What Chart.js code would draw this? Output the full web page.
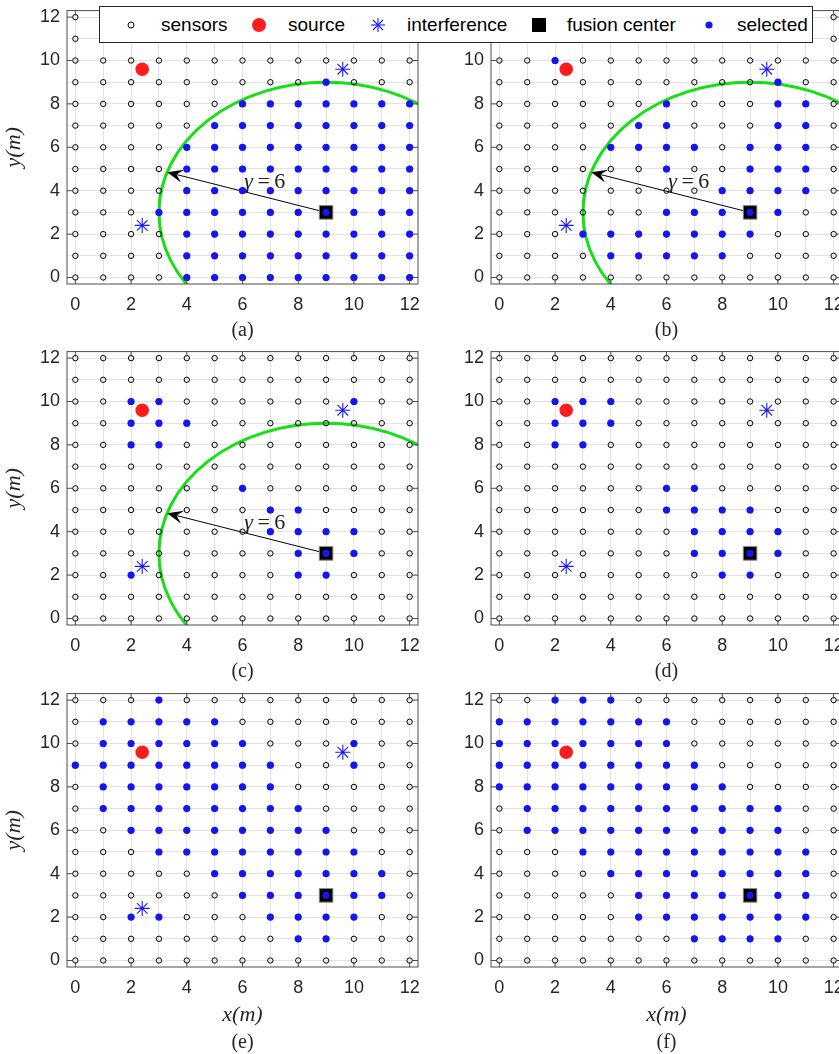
<!DOCTYPE html>
<html lang="en">
<head>
<meta charset="UTF-8" />
<title>Sensor selection around the fusion center</title>
<script src="https://cdn.jsdelivr.net/npm/chart.js"></script>
<style>
  body { margin: 0; width: 839px; height: 1054px; overflow: hidden; background: #fff; position: relative; }
  canvas { position: absolute; }
  .legend { position: absolute; left: 99px; top: 6px; width: 712px; height: 35px; background: #fff;
            border: 1px solid #262626; font-family: "Liberation Sans", Arial, sans-serif; font-size: 19px; color: #000; z-index: 2; }
  .legend span { position: absolute; top: 0; line-height: 36px; }
  .legend svg { position: absolute; left: 0; top: 0; }
</style>
</head>
<body>
<canvas id="pa" width="430" height="340" style="left:0;top:0"></canvas>
<canvas id="pb" width="430" height="340" style="left:424px;top:0"></canvas>
<canvas id="pc" width="430" height="340" style="left:0;top:341px"></canvas>
<canvas id="pd" width="430" height="340" style="left:424px;top:341px"></canvas>
<canvas id="pe" width="430" height="371" style="left:0;top:683px"></canvas>
<canvas id="pf" width="430" height="371" style="left:424px;top:683px"></canvas>

<div class="legend">
  <svg width="712" height="35">
    <circle cx="31" cy="18" r="3" fill="none" stroke="#000" stroke-width="1"/>
    <circle cx="159" cy="18" r="7" fill="#ff1c1c"/>
    <g stroke="#1a1aff" stroke-width="1.1">
      <line x1="271" y1="18" x2="285" y2="18"/><line x1="278" y1="11" x2="278" y2="25"/>
      <line x1="273" y1="13" x2="283" y2="23"/><line x1="273" y1="23" x2="283" y2="13"/>
    </g>
    <rect x="432" y="11" width="14" height="14" fill="#000"/>
    <circle cx="609" cy="18" r="3.6" fill="#1515f0"/>
  </svg>
  <span style="left:61px">sensors</span>
  <span style="left:188px">source</span>
  <span style="left:307px">interference</span>
  <span style="left:467px">fusion center</span>
  <span style="left:637px">selected</span>
</div>

<script>
  const gridCoords = [0, 1, 2, 3, 4, 5, 6, 7, 8, 9, 10, 11, 12];
  const sourcePoints = [{ x: 2.4, y: 9.6 }];
  const interferencePoints = [{ x: 9.6, y: 9.6 }, { x: 2.4, y: 2.4 }];
  const fusionPoints = [{ x: 9, y: 3 }];
  const gamma = 6;          // selection radius around the fusion center
  const arrowAngle = 162;   // direction of the radius arrow, degrees
  const captions = ['(a)', '(b)', '(c)', '(d)', '(e)', '(f)'];

  // selected sensors, rows y = 12 down to 0, columns x = 0..12 ('#' = selected)
  const selectedA = [
    '.............', '.............', '.............', '.........#...',
    '......#######', '.....########', '....#########', '....#########',
    '....#########', '...##########', '....#########', '....#########',
    '....#########'
  ];
  const selectedB = [
    '.............', '.............', '..#..........', '..........#..',
    '......#...##.', '.....##...##.', '....####.###.', '......#..###.',
    '........####.', '......#####..', '...#######...', '....#####....',
    '.............'
  ];
  const selectedC = [
    '.............', '.............', '..##......#..', '..###........',
    '..##.........', '.............', '......#......', '.......##....',
    '.......####..', '........###..', '..#.....##...', '.............',
    '.............'
  ];
  const selectedD = [
    '.............', '.............', '..###........', '..###........',
    '..##.........', '.............', '......##.....', '......####...',
    '.......####..', '.......####..', '........##...', '.............',
    '.............'
  ];
  const selectedE = [
    '...#.........', '.#####.......', '.######...#..', '########..#..',
    '.#######.....', '.########....', '..########...', '...########..',
    '.....#######.', '......######.', '..##...####..', '........##...',
    '.............'
  ];
  const selectedF = [
    '..###........', '#######......', '#######......', '########.....',
    '#########....', '.##########..', '.##########..', '...#########.',
    '....########.', '.....#######.', '.....#######.', '.......####..',
    '.............'
  ];

  const BLUE = '#1515f0';
  const SERIF = '"Liberation Serif", "Times New Roman", serif';
  const INK = '#262626';

  function gridPoints() {
    const pts = [];
    gridCoords.forEach(y => gridCoords.forEach(x => pts.push({ x, y })));
    return pts;
  }

  function maskPoints(rows) {
    const pts = [];
    rows.forEach((row, i) => {
      const y = gridCoords[gridCoords.length - 1 - i];
      [...row].forEach((c, j) => { if (c === '#') pts.push({ x: gridCoords[j], y }); });
    });
    return pts;
  }

  // radius circle + arrow under the markers, frame / labels on top
  const fieldMarks = {
    id: 'fieldMarks',
    beforeDatasetsDraw(chart, args, o) {
      if (!o.arc) return;
      const { ctx, chartArea: a, scales: { x, y } } = chart;
      const c = fusionPoints[0];
      const cx = x.getPixelForValue(c.x), cy = y.getPixelForValue(c.y);
      const rx = x.getPixelForValue(c.x + gamma) - cx;
      const ry = cy - y.getPixelForValue(c.y + gamma);
      ctx.save();
      ctx.beginPath();
      ctx.rect(a.left, a.top, a.right - a.left, a.bottom - a.top);
      ctx.clip();
      ctx.beginPath();
      ctx.ellipse(cx, cy, rx, ry, 0, 0, 2 * Math.PI);
      ctx.strokeStyle = '#14e014';
      ctx.lineWidth = 3;
      ctx.stroke();

      const t = arrowAngle * Math.PI / 180;
      const tx = x.getPixelForValue(c.x + gamma * Math.cos(t));
      const ty = y.getPixelForValue(c.y + gamma * Math.sin(t));
      const ang = Math.atan2(ty - cy, tx - cx);
      const L = 16, W = 13, back = 0.6 * L;
      ctx.strokeStyle = '#000';
      ctx.lineWidth = 1;
      ctx.beginPath();
      ctx.moveTo(cx, cy);
      ctx.lineTo(tx - back * Math.cos(ang), ty - back * Math.sin(ang));
      ctx.stroke();
      ctx.translate(tx, ty);
      ctx.rotate(ang);
      ctx.beginPath();
      ctx.moveTo(0, 0);
      ctx.lineTo(-L, -W / 2);
      ctx.lineTo(-back, 0);
      ctx.lineTo(-L, W / 2);
      ctx.closePath();
      ctx.fillStyle = '#000';
      ctx.fill();
      ctx.restore();
    },
    afterDatasetsDraw(chart, args, o) {
      const { ctx, chartArea: a, scales: { x, y } } = chart;
      ctx.save();
      // box with inward tick marks
      ctx.strokeStyle = '#4d4d4d';
      ctx.lineWidth = 1;
      ctx.strokeRect(a.left, a.top, a.right - a.left, a.bottom - a.top);
      ctx.beginPath();
      x.ticks.forEach(tk => {
        if (tk.value % 2) return;
        const px = x.getPixelForValue(tk.value);
        ctx.moveTo(px, a.bottom); ctx.lineTo(px, a.bottom - 5);
        ctx.moveTo(px, a.top); ctx.lineTo(px, a.top + 5);
      });
      y.ticks.forEach(tk => {
        if (tk.value % 2) return;
        const py = y.getPixelForValue(tk.value);
        ctx.moveTo(a.left, py); ctx.lineTo(a.left + 5, py);
        ctx.moveTo(a.right, py); ctx.lineTo(a.right - 5, py);
      });
      ctx.stroke();

      if (o.arc) {
        // gamma label above the arrow
        const lx = x.getPixelForValue(6.8), ly = y.getPixelForValue(4.4);
        const g = 'γ', rest = '\u2009=\u2009' + gamma;
        ctx.fillStyle = '#222';
        ctx.textBaseline = 'middle';
        ctx.font = 'italic 22px ' + SERIF;
        const wg = ctx.measureText(g).width;
        ctx.font = '22px ' + SERIF;
        const wr = ctx.measureText(rest).width;
        const x0 = lx - (wg + wr) / 2;
        ctx.textAlign = 'left';
        ctx.font = 'italic 22px ' + SERIF;
        ctx.fillText(g, x0, ly);
        ctx.font = '22px ' + SERIF;
        ctx.fillText(rest, x0 + wg, ly);
      }

      // panel caption
      ctx.fillStyle = INK;
      ctx.font = '20px ' + SERIF;
      ctx.textAlign = 'center';
      ctx.textBaseline = 'middle';
      ctx.fillText(o.caption, (a.left + a.right) / 2, a.bottom + o.captionGap);
      ctx.restore();
    }
  };

  Chart.defaults.font.family = '"Liberation Sans", Arial, sans-serif';
  Chart.defaults.color = INK;

  const panels = [
    { id: 'pa', rows: selectedA, arc: true,  interference: true,  yTitle: true },
    { id: 'pb', rows: selectedB, arc: true,  interference: true,  yTitle: false },
    { id: 'pc', rows: selectedC, arc: true,  interference: true,  yTitle: true },
    { id: 'pd', rows: selectedD, arc: false, interference: true,  yTitle: false },
    { id: 'pe', rows: selectedE, arc: false, interference: true,  yTitle: true },
    { id: 'pf', rows: selectedF, arc: false, interference: false, yTitle: false }
  ];

  panels.forEach((p, k) => {
    const last = k >= 4;
    const ticksFromGrid = s => { s.ticks = gridCoords.map(v => ({ value: v })); };
    const evenOnly = v => (v % 2 === 0 ? v : '');
    new Chart(document.getElementById(p.id), {
      type: 'scatter',
      data: {
        datasets: [
          { label: 'selected', data: maskPoints(p.rows), order: 0,
            pointRadius: 3.6, backgroundColor: BLUE, borderColor: BLUE, borderWidth: 0 },
          { label: 'interference', data: p.interference ? interferencePoints : [], order: 1,
            pointStyle: 'star', pointRadius: 7.5, borderColor: '#1a1aff', borderWidth: 1.1 },
          { label: 'source', data: sourcePoints, order: 2,
            pointRadius: 6.8, backgroundColor: '#ff1c1c', borderColor: '#ff0000', borderWidth: 0 },
          { label: 'sensors', data: gridPoints(), order: 3,
            pointRadius: 2.7, backgroundColor: 'rgba(0,0,0,0)', borderColor: '#000', borderWidth: 1 },
          { label: 'fusion center', data: fusionPoints, order: 4,
            pointStyle: 'rect', pointRadius: 9.6, backgroundColor: '#000', borderColor: '#8a8a8a', borderWidth: 1 }
        ]
      },
      options: {
        responsive: false,
        animation: false,
        events: [],
        layout: { padding: { top: 6, right: 12, left: 0, bottom: 0 } },
        scales: {
          x: {
            type: 'linear', min: -0.3, max: 12.3,
            afterBuildTicks: ticksFromGrid,
            afterFit: s => { s.height = last ? 87 : 56; s.paddingLeft = 0; s.paddingRight = 0; },
            ticks: { autoSkip: false, maxRotation: 0, padding: 10, font: { size: 18 }, callback: evenOnly },
            grid: { color: '#e2e2e2', drawTicks: false },
            border: { display: false },
            title: { display: last, text: 'x(m)', color: INK,
                     font: { family: SERIF, style: 'italic', size: 22 }, padding: { top: 0, bottom: 26 } }
          },
          y: {
            type: 'linear', min: -0.3, max: 12.3,
            afterBuildTicks: ticksFromGrid,
            afterFit: s => { s.width = 67; s.paddingTop = 0; s.paddingBottom = 0; },
            ticks: { autoSkip: false, padding: 7, font: { size: 18 }, callback: evenOnly },
            grid: { color: '#e2e2e2', drawTicks: false },
            border: { display: false },
            title: { display: p.yTitle, text: 'y(m)', color: INK,
                     font: { family: SERIF, style: 'italic', size: 22 }, padding: { top: 1, bottom: 0 } }
          }
        },
        plugins: {
          legend: { display: false },
          tooltip: { enabled: false },
          fieldMarks: { arc: p.arc, caption: captions[k], captionGap: last ? 76 : 47 }
        }
      },
      plugins: [fieldMarks]
    });
  });
</script>
</body>
</html>
